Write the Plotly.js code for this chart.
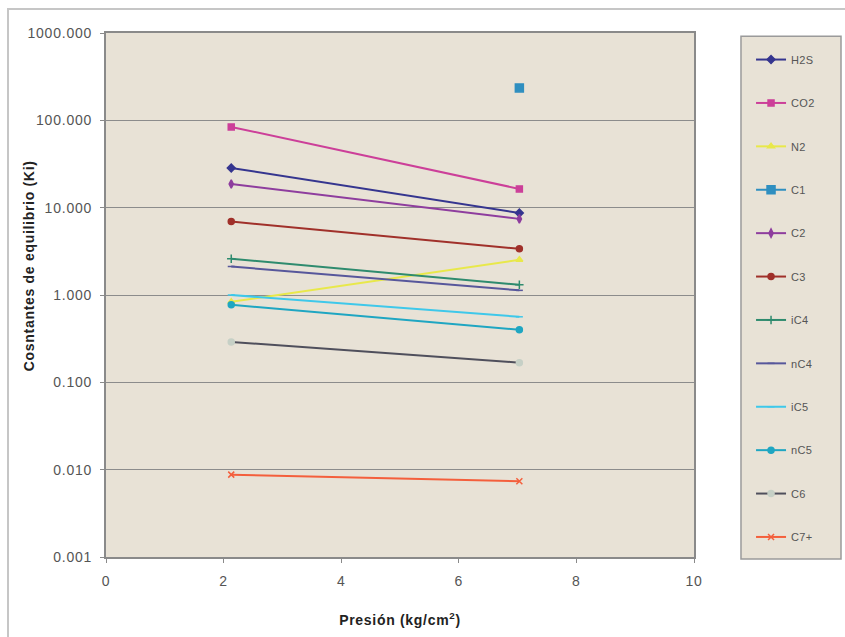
<!DOCTYPE html>
<html>
<head>
<meta charset="utf-8">
<script src="https://cdn.plot.ly/plotly-3.0.1.min.js"></script>
<style>
  html, body { margin: 0; padding: 0; background: #ffffff; }
  #wrap { position: relative; width: 845px; height: 637px; }
  #chart { position: absolute; left: 0; top: 0; width: 845px; height: 637px; }
  #frame { position: absolute; left: 7px; top: 8px; width: 845px; height: 640px;
           border-left: 2px solid #c6c6c6; border-top: 2px solid #c6c6c6; pointer-events: none; }
  #chart .xtick text, #chart .ytick text { letter-spacing: 0.8px; }
  #chart .xtitle, #chart .annotation-text { letter-spacing: 0.7px; }
  #chart .legendtext { letter-spacing: 0.3px; }
</style>
</head>
<body>
<div id="wrap">
  <div id="chart"></div>
  <div id="frame"></div>
</div>
<script>
// Pressure values (kg/cm²)
const presion = [2.13, 7.03];

// Equilibrium constants Ki per component at each pressure
const componentes = ["H2S", "CO2", "N2", "C1", "C2", "C3", "iC4", "nC4", "iC5", "nC5", "C6", "C7+"];
const kH2S = [28.5, 8.7];
const kCO2 = [84, 16.4];
const kN2  = [0.835, 2.53];
const kC1  = [null, 235];
const kC2  = [18.7, 7.44];
const kC3  = [6.93, 3.38];
const kiC4 = [2.6, 1.31];
const knC4 = [2.12, 1.13];
const kiC5 = [1.0, 0.563];
const knC5 = [0.773, 0.40];
const kC6  = [0.29, 0.168];
const kC7  = [0.00877, 0.00735];

const valores = [kH2S, kCO2, kN2, kC1, kC2, kC3, kiC4, knC4, kiC5, knC5, kC6, kC7];

// Line colour and marker for each component
const estilos = [
  { color: "#35358f", symbol: "diamond", size: 6 },
  { color: "#cc3f99", symbol: "square", size: 6 },
  { color: "#e8e84a", symbol: "triangle-up", size: 6 },
  { color: "#2f8fc0", symbol: "square", size: 8 },
  { color: "#8e3d9e", symbol: "diamond-tall", size: 6 },
  { color: "#a0302a", symbol: "circle", size: 6 },
  { color: "#2e8b6e", symbol: "cross-thin-open", size: 6 },
  { color: "#57579b", symbol: "line-ew-open", size: 5 },
  { color: "#3ec8ea", symbol: "line-ew-open", size: 5 },
  { color: "#1fa6c2", symbol: "circle", size: 6 },
  { color: "#4f4f5c", symbol: "circle", size: 6, mcolor: "#c6d0c6" },
  { color: "#f45f3c", symbol: "x-thin-open", size: 6 }
];

const traces = componentes.map((nombre, i) => {
  const e = estilos[i];
  return {
    type: "scatter",
    mode: "lines+markers",
    name: nombre,
    legendgroup: "g" + i,
    x: presion,
    y: valores[i],
    line: { color: e.color, width: 2 },
    marker: {
      color: e.mcolor || e.color,
      symbol: e.symbol,
      size: e.size,
      line: { color: e.mcolor || e.color, width: 1.5 }
    },
    connectgaps: false
  };
});

const fuente = "Liberation Sans, Arial, sans-serif";

const layout = {
  width: 845,
  height: 637,
  paper_bgcolor: "#ffffff",
  plot_bgcolor: "#e8e2d6",
  margin: { l: 106, r: 151, t: 33, b: 80 },
  font: { family: fuente, size: 12, color: "#444444" },
  showlegend: true,
  legend: {
    x: 1.097, y: 0.977, xanchor: "left", yanchor: "top",
    bgcolor: "rgba(0,0,0,0)",
    borderwidth: 0,
    font: { size: 11, color: "#555555" },
    tracegroupgap: 24.4,
    itemwidth: 30
  },
  // legend frame
  shapes: [{
    type: "rect", xref: "paper", yref: "paper",
    x0: 1.0799, x1: 1.2500, y0: -0.004, y1: 0.994,
    fillcolor: "#e8e2d6",
    line: { color: "#9a9a9a", width: 1.5 },
    layer: "below"
  }],
  annotations: [{
    text: "<b>Cosntantes de equilibrio (Ki)</b>",
    xref: "paper", yref: "paper",
    x: -0.131, y: 0.557,
    xanchor: "center", yanchor: "middle",
    textangle: -90,
    showarrow: false,
    font: { size: 14, color: "#222222", family: fuente }
  }],
  xaxis: {
    range: [0, 10],
    dtick: 2,
    tick0: 0,
    showgrid: false,
    zeroline: false,
    showline: true,
    linecolor: "#8a8a8a",
    linewidth: 2,
    mirror: true,
    ticks: "outside",
    ticklen: 4,
    tickcolor: "#8a8a8a",
    ticklabelstandoff: 6,
    tickfont: { size: 14, color: "#555555" },
    title: {
      text: "Presión (kg/cm<sup>2</sup>)",
      font: { size: 14, color: "#222222", family: fuente, weight: "bold" },
      standoff: 27
    }
  },
  yaxis: {
    type: "log",
    range: [-3, 3],
    dtick: 1,
    tickformat: ".3f",
    showgrid: true,
    gridcolor: "#8c8c8c",
    gridwidth: 1,
    zeroline: false,
    showline: true,
    linecolor: "#8a8a8a",
    linewidth: 2,
    mirror: true,
    ticks: "outside",
    ticklen: 4,
    tickcolor: "#8a8a8a",
    ticklabelstandoff: 5,
    tickfont: { size: 14, color: "#555555" }
  }
};

Plotly.newPlot("chart", traces, layout, { displayModeBar: false, staticPlot: true });
</script>
</body>
</html>
